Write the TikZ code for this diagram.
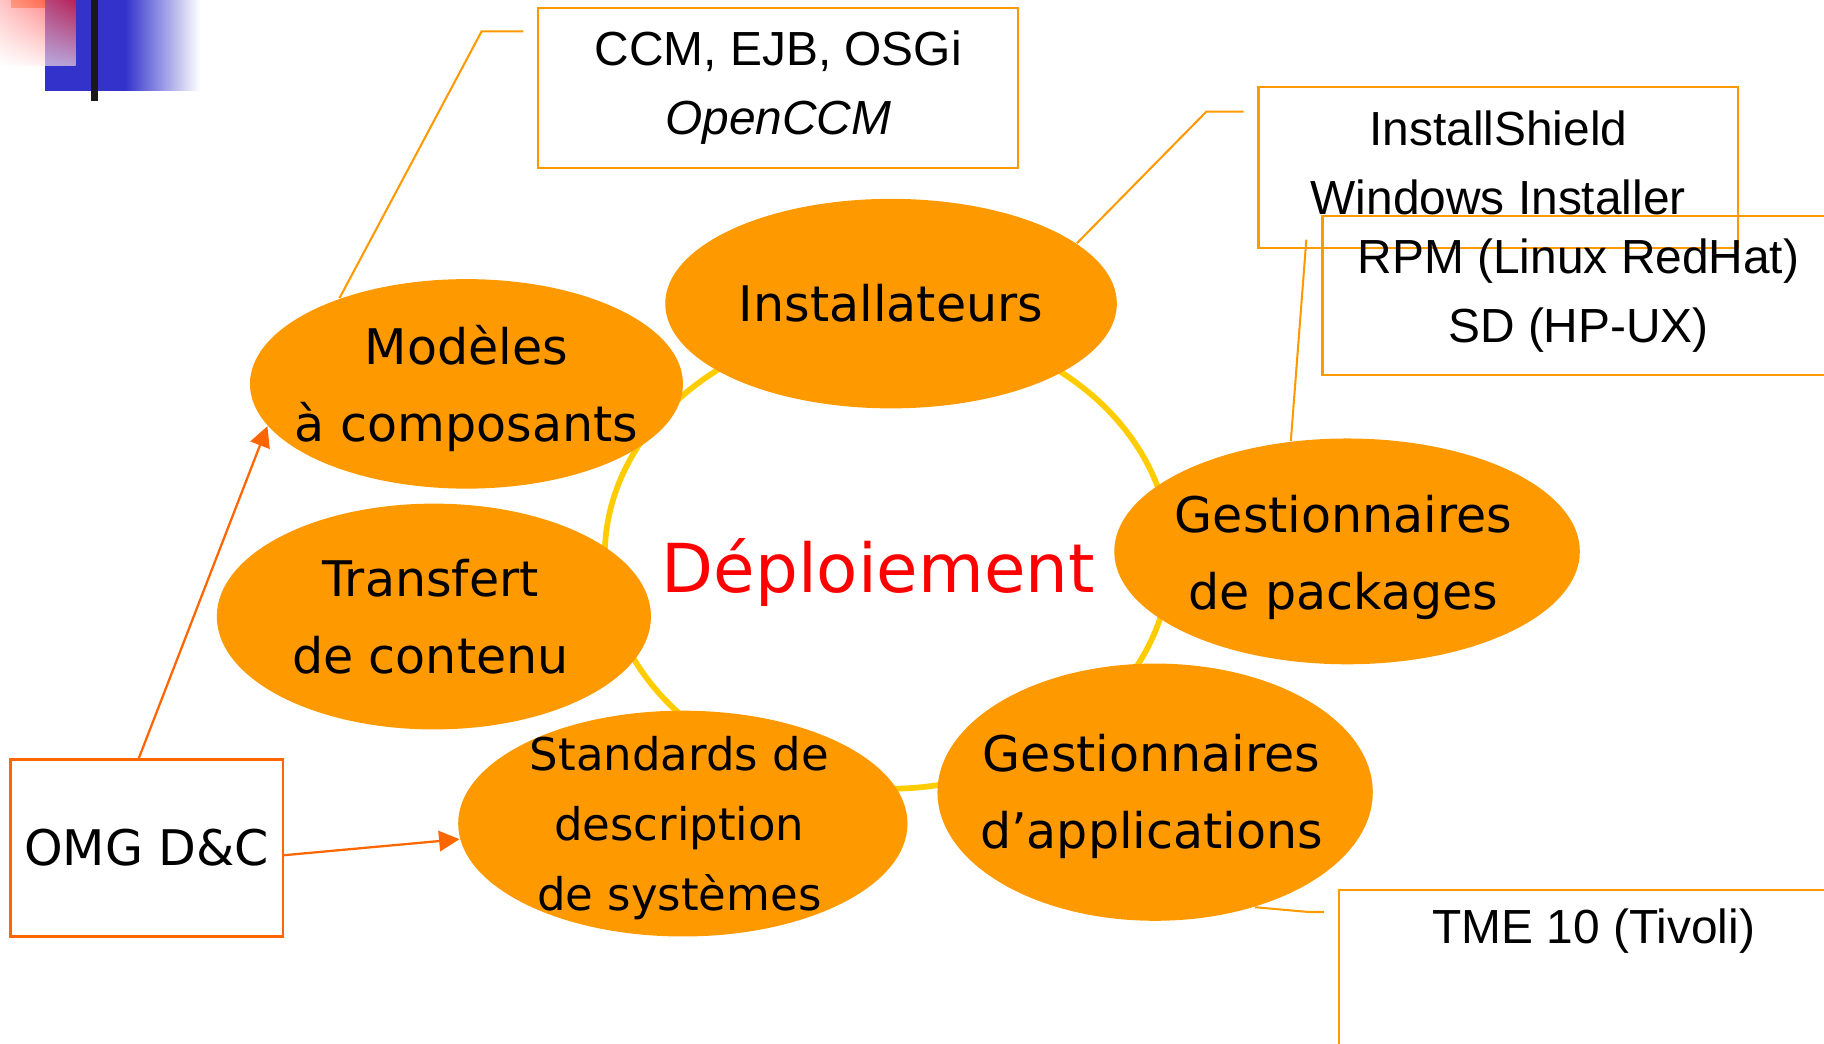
\documentclass[tikz,border=0pt]{standalone}
\usepackage{fontspec}
\setmainfont{Liberation Sans}
\newfontfamily\comicfont{DejaVu Sans}
\usepackage{tikz}
\usetikzlibrary{shapes.geometric, arrows.meta, positioning, shadings}
\usepackage{xcolor}
\definecolor{blobfill}{HTML}{FF9900}
\definecolor{ringcol}{HTML}{FFCC00}
\definecolor{tagline}{HTML}{FF9900}
\definecolor{omgline}{HTML}{FF6600}
\definecolor{deplred}{HTML}{FF0000}
\definecolor{barblue}{HTML}{3333CC}
\definecolor{cornerorange}{HTML}{FF9955}

\begin{document}
\begin{tikzpicture}[x=0.01cm, y=-0.01cm,
	blob/.style={ellipse, fill=blobfill, inner sep=0pt},
	blobtext/.style={font=\comicfont\fontsize{12}{18.8}\selectfont, align=center},
	tag/.style={draw=tagline, line width=0.5pt, inner sep=0pt, align=center, text depth=0.086cm, font=\fontsize{11.7}{17}\selectfont},
	leader/.style={tagline, line width=0.5pt},
	omgarrow/.style={omgline, line width=0.55pt, -{Triangle[length=5pt,width=5pt]}}]
		\useasboundingbox (0,0) rectangle (1568,897);
		\clip (0,0) rectangle (1568,897);

		% corner mark
		\fill[cornerorange] (9.5,0) rectangle (65,7);
		\fill[barblue] (39,0) rectangle (108,78);
		\shade[left color=barblue, right color=white] (107.5,0) rectangle (172,78);
		\shade[fill opacity=0.65, upper left=red!35, upper right=red!90, lower left=white, lower right=red!15] (0,0) rectangle (65,56);
		\fill[black!90] (78,0) rectangle (84,87);

		% ring
		\draw[ringcol, line width=1.4pt] (763,478) ellipse [x radius=2.43cm, y radius=2.00cm];

		% bubbles
		\node[blob, minimum width=3.72cm, minimum height=1.80cm] (modeles) at (401,330) {};
		\node[blob, minimum width=3.88cm, minimum height=1.80cm] (install) at (766,261) {};
		\node[blob, minimum width=3.73cm, minimum height=1.94cm] (transfert) at (373,530) {};
		\node[blob, minimum width=3.86cm, minimum height=1.94cm] (standards) at (587,708) {};
		\node[blob, minimum width=4.00cm, minimum height=1.94cm] (packages) at (1158,474) {};
		\node[blob, minimum width=3.74cm, minimum height=2.21cm] (applis) at (993,681) {};

		\node[blobtext] (modelestxt) at (401,334) {Modèles\\à composants};
		\node[blobtext] (installtxt) at (install) {Installateurs};
		\node[blobtext] (transferttxt) at (370,530) {Transfert\\de contenu};
		\node[blobtext, font=\comicfont\fontsize{11}{17.1}\selectfont] (standardstxt) at (584,712) {Standards de\\description\\de systèmes};
		\node[blobtext] (packagestxt) at (1155,479) {Gestionnaires\\de packages};
		\node[blobtext] (applistxt) at (990,685) {Gestionnaires\\d’applications};
		\node[font=\comicfont\fontsize{16.5}{20}\selectfont, text=deplred] (deploiement) at (755,492) {Déploiement};

		% boxes
		\node[tag, minimum width=4.12cm, minimum height=1.37cm] (ccm) at (669,75.5) {CCM, EJB, OSGi\\\textit{OpenCCM}};
		\node[tag, minimum width=4.12cm, minimum height=1.38cm] (installers) at (1288,144) {InstallShield\\Windows Installer};
		\node[tag, minimum width=4.40cm, minimum height=1.37cm] (rpm) at (1357,254) {RPM (Linux RedHat)\\SD (HP-UX)};
		\node[tag, minimum width=4.38cm, minimum height=1.37cm] (tme) at (1370,833.5) {};
		\node[tag, draw=none, anchor=base] (tmetxt) at ([yshift=-0.47cm]tme.north) {TME 10 (Tivoli)};
		\node[draw=omgline, line width=0.55pt, inner sep=0pt, minimum width=2.34cm, minimum height=1.52cm, font=\comicfont\fontsize{12}{14}\selectfont] (omg) at (126,729) {OMG D\&C};

		% leaders
		\coordinate (ccmknee) at (414,27);
		\coordinate (ccmfoot) at (450,27);
		\coordinate (instknee) at (1037,96);
		\coordinate (instfoot) at (1069,96);
		\coordinate (rpmfoot) at (1123,206);
		\coordinate (tmeknee) at (1125,784);
		\coordinate (tmefoot) at (1138,784);
		\draw[leader] (modeles.146) -- (ccmknee) -- (ccmfoot);
		\draw[leader] (install.18) -- (instknee) -- (instfoot);
		\draw[leader] (packages.117) -- (rpmfoot);
		\draw[leader] (applis.-49) -- (tmeknee) -- (tmefoot);

		\draw[omgarrow] (omg.95) -- (modeles.192);
		\draw[omgarrow] (omg.-3) -- (standards.184);
	\end{tikzpicture}
\end{document}
